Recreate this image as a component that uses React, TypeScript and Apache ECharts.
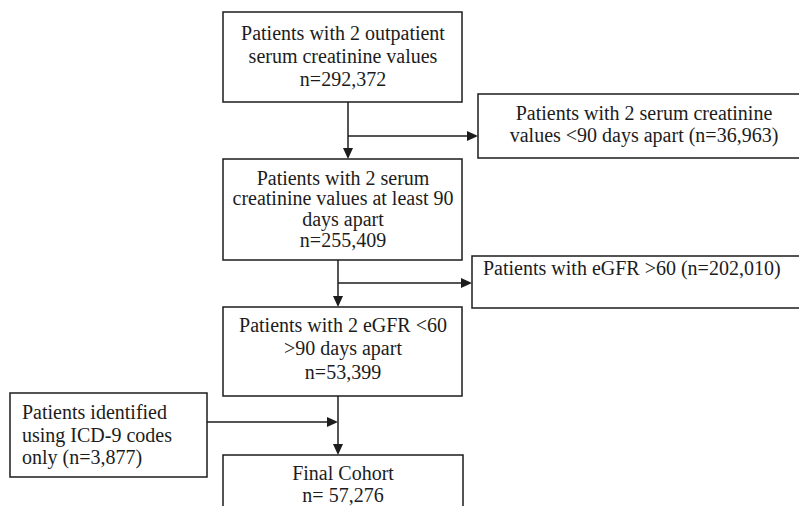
import React, { useEffect, useRef } from "react";
import * as echarts from "echarts";

// ---- Data (flowchart content) ----
const mainStepLines: string[][] = [
  ["Patients with 2 outpatient", "serum creatinine values"],
  ["Patients with 2 serum", "creatinine values at least 90", "days apart"],
  ["Patients with 2 eGFR <60", ">90 days apart"],
  ["Final Cohort"],
];
const mainCountPrefix = ["n=", "n=", "n=", "n= "];
const mainCounts = [292372, 255409, 53399, 57276];
const excludedLines: string[][] = [
  ["Patients with 2 serum creatinine", "values <90 days apart (n=36,963)"],
  ["Patients with eGFR >60 (n=202,010)"],
];
const addedLines: string[] = ["Patients identified", "using ICD-9 codes", "only (n=3,877)"];

// ---- Layout (positions/sizes) ----
const INK = "#1c1c1c";
const mainBoxes = [
  { x: 223, y: 12, w: 239, h: 90, lineY: [33, 56, 79], lineX: 343 },
  { x: 223, y: 159, w: 239, h: 101, lineY: [178, 198, 219, 240], lineX: 343 },
  { x: 223, y: 307, w: 239, h: 89, lineY: [325, 348, 372], lineX: 343 },
  { x: 223, y: 455, w: 240, h: 80, lineY: [473, 495], lineX: 343 },
];
const exclBoxes = [
  { x: 478, y: 94, w: 340, h: 64, lineY: [113, 135], lineX: 644, align: "center" },
  { x: 472, y: 256, w: 340, h: 52, lineY: [268], lineX: 483, align: "left" },
];
const addBox = { x: 10, y: 393, w: 197, h: 84, lineY: [412, 435, 457], lineX: 22 };

function rect(x: number, y: number, w: number, h: number) {
  return {
    type: "rect",
    shape: { x, y, width: w, height: h },
    style: { fill: "#fff", stroke: INK, lineWidth: 1.5 },
  };
}
function line(x1: number, y1: number, x2: number, y2: number) {
  return {
    type: "line",
    shape: { x1, y1, x2, y2 },
    style: { stroke: INK, lineWidth: 1.5 },
  };
}
function arrowDown(x: number, tipY: number) {
  return {
    type: "polygon",
    shape: { points: [[x - 5, tipY - 11], [x + 5, tipY - 11], [x, tipY]] },
    style: { fill: INK },
  };
}
function arrowRight(tipX: number, y: number) {
  return {
    type: "polygon",
    shape: { points: [[tipX - 11, y - 5], [tipX - 11, y + 5], [tipX, y]] },
    style: { fill: INK },
  };
}
function text(s: string, x: number, y: number, align: string) {
  return {
    type: "text",
    x,
    y,
    style: {
      text: s,
      fontSize: 20,
      fontFamily: "Liberation Serif",
      fill: INK,
      textAlign: align,
      textVerticalAlign: "middle",
    },
  };
}

export default function App() {
  const ref = useRef<HTMLDivElement>(null);
  useEffect(() => {
    if (!ref.current) return;
    const chart = echarts.init(ref.current, undefined, { renderer: "svg" });
    const els: any[] = [];

    // connectors
    els.push(line(348, 102, 348, 150), arrowDown(348, 159));
    els.push(line(348, 136, 470, 136), arrowRight(478, 136));
    els.push(line(338, 260, 338, 298), arrowDown(338, 307));
    els.push(line(338, 283, 464, 283), arrowRight(472, 283));
    els.push(line(338, 396, 338, 446), arrowDown(338, 455));
    els.push(line(207, 422, 330, 422), arrowRight(338, 422));

    mainBoxes.forEach((b, i) => {
      els.push(rect(b.x, b.y, b.w, b.h));
      const lines = [
        ...mainStepLines[i],
        mainCountPrefix[i] + mainCounts[i].toLocaleString("en-US"),
      ];
      lines.forEach((s, j) => els.push(text(s, b.lineX, b.lineY[j], "center")));
    });
    exclBoxes.forEach((b, i) => {
      els.push(rect(b.x, b.y, b.w, b.h));
      excludedLines[i].forEach((s, j) => els.push(text(s, b.lineX, b.lineY[j], b.align)));
    });
    els.push(rect(addBox.x, addBox.y, addBox.w, addBox.h));
    addedLines.forEach((s, j) => els.push(text(s, addBox.lineX, addBox.lineY[j], "left")));

    chart.setOption({
      animation: false,
      backgroundColor: "#ffffff",
      graphic: { elements: els },
    });
    return () => chart.dispose();
  }, []);
  return (
    <div
      ref={ref}
      style={{ position: "absolute", left: 0, top: 0, width: 799, height: 506, background: "#fff" }}
    />
  );
}
